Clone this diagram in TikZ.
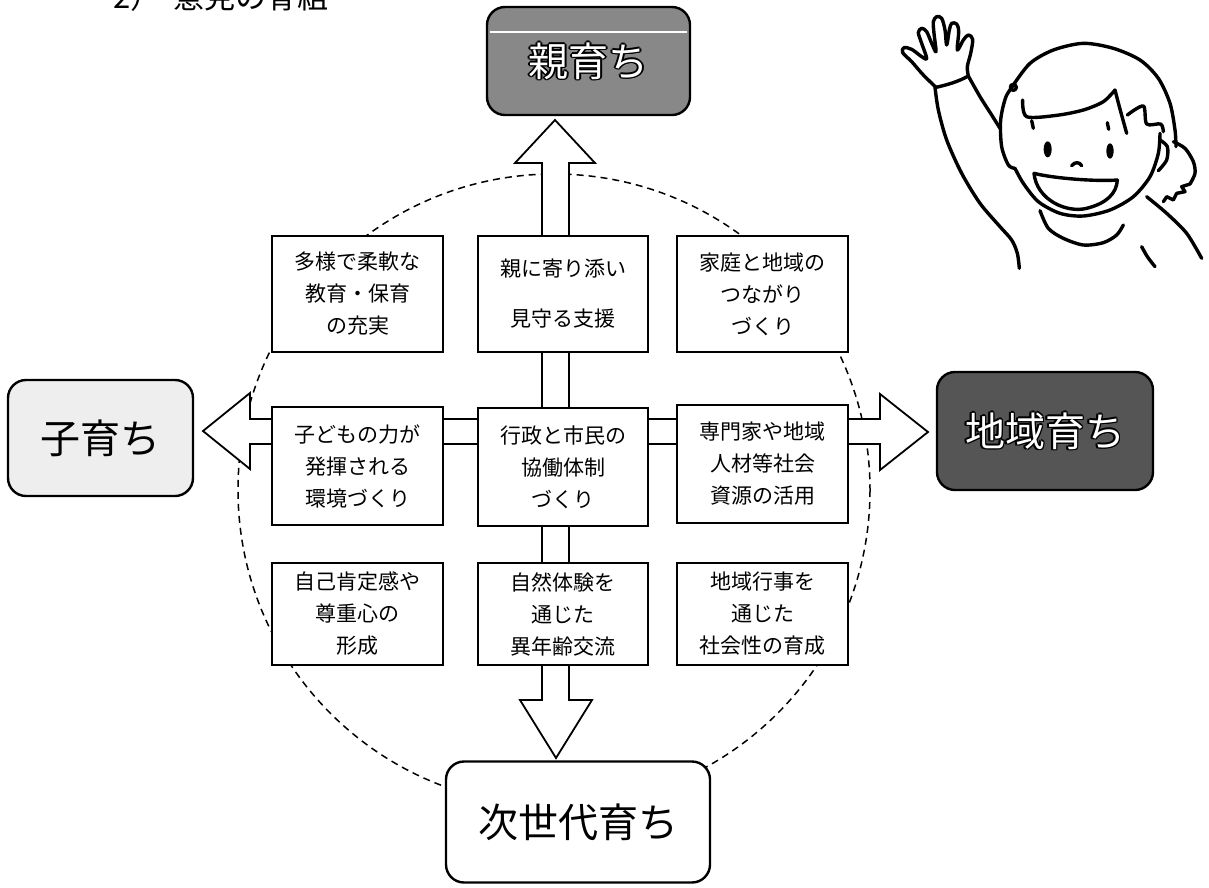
\documentclass[tikz,border=0pt]{standalone}
\usepackage{fontspec}
\setmainfont{Noto Sans CJK JP}
\usetikzlibrary{calc}

% white lettering with a black rim
\newcommand\rimcopy[3]{\rlap{\kern#1\raise#2\hbox{\color{black}#3}}}
\newcommand\rimtext[1]{%
  \rimcopy{1.6pt}{0pt}{#1}\rimcopy{-1.6pt}{0pt}{#1}%
  \rimcopy{0pt}{1.6pt}{#1}\rimcopy{0pt}{-1.6pt}{#1}%
  \rimcopy{1.1pt}{1.1pt}{#1}\rimcopy{-1.1pt}{1.1pt}{#1}%
  \rimcopy{1.1pt}{-1.1pt}{#1}\rimcopy{-1.1pt}{-1.1pt}{#1}%
  {\color{white}#1}}

\definecolor{midgray}{HTML}{888888}
\definecolor{darkgray}{HTML}{555555}
\definecolor{palegray}{HTML}{EEEEEE}

\tikzset{
  cell/.style={draw, line width=1.8pt, fill=white, minimum width=171pt,
    inner sep=0pt, align=center, font=\fontsize{21}{32}\selectfont},
  bigbox/.style={draw, line width=2.4pt, rounded corners=18pt, inner sep=0pt,
    font=\fontsize{40}{44}\selectfont},
  blockarrow/.style={draw, line width=1.8pt, fill=white, line join=miter},
  ring/.style={dashed, line width=1.5pt, dash pattern=on 7pt off 5pt},
  pen/.style={line width=3.4pt, line cap=round, line join=round},
}

\begin{document}
\begin{tikzpicture}[x=1pt, y=-1pt]
\useasboundingbox (0,0) rectangle (1209,887);
\clip (0,0) rectangle (1209,887);

% heading, running off the top edge
\node[anchor=base west, inner sep=0pt, font=\fontsize{31}{34}\selectfont] (head) at (113,8) {2）\hspace{0.4em}意見の骨組};

% dashed ring round the grid
\draw[ring] (554,490) circle[radius=316];

% arrow tips
\coordinate (tipN) at (555,120);
\coordinate (tipS) at (556,758);
\coordinate (tipW) at (203,431);
\coordinate (tipE) at (928,432);

% vertical and horizontal block arrows
\draw[blockarrow] (542,163) -- (515,163) -- (tipN) -- (595,163) -- (569,163)
  -- (569,700) -- (592,700) -- (tipS) -- (520,700) -- (542,700) -- cycle;
\draw[blockarrow] (250,419) -- (250,393) -- (tipW) -- (250,469) -- (250,444)
  -- (880,444) -- (880,470) -- (tipE) -- (880,394) -- (880,419) -- cycle;

% 3 x 3 grid of themes
\node[cell, minimum height=116pt] (c11) at (357.5,294) {多様で柔軟な\\教育・保育\\の充実};
\node[cell, minimum height=116pt, minimum width=170pt] (c12) at (563,294) {親に寄り添い\\[18pt]見守る支援};
\node[cell, minimum height=116pt] (c13) at (762.5,294) {家庭と地域の\\つながり\\づくり};
\node[cell, minimum height=118pt] (c21) at (357.5,466) {子どもの力が\\発揮される\\環境づくり};
\node[cell, minimum height=118pt, minimum width=170pt] (c22) at (563,467) {行政と市民の\\協働体制\\づくり};
\node[cell, minimum height=118pt] (c23) at (762.5,464) {専門家や地域\\人材等社会\\資源の活用};
\node[cell, minimum height=102pt] (c31) at (357.5,614) {自己肯定感や\\尊重心の\\形成};
\node[cell, minimum height=102pt, minimum width=170pt] (c32) at (563,614) {自然体験を\\通じた\\異年齢交流};
\node[cell, minimum height=102pt] (c33) at (762.5,614) {地域行事を\\通じた\\社会性の育成};

% the four outer goals
\node[bigbox, fill=midgray, minimum width=203pt, minimum height=108pt] (oya) at (588.5,61) {\rimtext{親育ち}};
\draw[white, line width=1.5pt] ($(oya.north west)+(4,26)$) -- ($(oya.north east)+(-4,26)$);
\node[bigbox, fill=palegray, minimum width=185pt, minimum height=116pt] (ko) at (100.5,438) {子育ち};
\node[bigbox, fill=darkgray, minimum width=216pt, minimum height=118pt] (chiiki) at (1045,431) {\rimtext{地域育ち}};
\node[bigbox, fill=white, minimum width=264pt, minimum height=121pt] (jisedai) at (578,822) {次世代育ち\hspace{20pt}};

% waving child
\begin{scope}[shift={(880,0)}, scale=1/3]
  % hand and arm
  \draw[pen] plot[smooth, tension=0.55] coordinates {(168,262) (130,225) (95,185) (68,158) (72,143) (95,148) (125,170) (140,175)
    (125,130) (115,98) (125,85) (140,95) (155,130) (168,155)
    (162,100) (160,65) (170,50) (185,55) (195,90) (200,135)
    (208,90) (215,70) (230,72) (236,95) (232,150)
    (250,120) (265,105) (278,118) (272,160) (262,200) (265,228)};
  \draw[pen] (168,262) .. controls (200,255) and (235,245) .. (265,228);
  \draw[pen] plot[smooth] coordinates {(165,262) (175,330) (200,420) (245,520) (300,610) (360,680) (395,720) (412,760) (418,805)};
  \draw[pen] plot[smooth] coordinates {(265,228) (300,290) (335,345) (360,385)};
  % hair
  \draw[pen] plot[smooth] coordinates {(400,255) (450,190) (520,150) (610,130) (700,145) (780,180) (835,235) (870,310) (885,390) (888,440)};
  \draw[pen] plot[smooth] coordinates {(405,250) (378,290) (362,360) (365,440) (385,495) (405,505)};
  \draw[pen] (400,262) circle[radius=9];
  \draw[pen] plot[smooth] coordinates {(428,300) (440,350) (530,346) (610,330) (670,305) (705,270)};
  \draw[pen] plot[smooth] coordinates {(705,270) (718,320) (740,400)};
  \draw[pen] plot[smooth] coordinates {(742,345) (790,318) (800,372) (842,372) (850,395)};
  \draw[pen] (455,362) -- (460,385);
  \draw[pen] (682,368) -- (686,388);
  % ponytail
  \draw[pen] plot[smooth] coordinates {(880,425) (915,445) (940,485) (945,520) (930,552)};
  \draw[pen] plot[sharp plot] coordinates {(930,552) (905,560) (915,575) (890,580) (880,600) (860,590) (850,605)};
  % face
  \draw[pen] plot[smooth] coordinates {(405,505) (430,550) (475,605) (540,640) (610,648) (690,630) (760,590) (810,530) (835,460) (840,400)};
  \draw[pen] plot[smooth] coordinates {(840,420) (862,440) (860,480) (835,512)};
  \fill (503,448) ellipse[x radius=12, y radius=24];
  \fill (690,453) ellipse[x radius=11, y radius=23];
  \draw[pen] (575,497) .. controls (585,485) and (598,485) .. (605,497);
  \draw[pen] (462,520) .. controls (520,535) and (650,545) .. (712,540);
  \draw[pen] (462,520) .. controls (470,600) and (560,640) .. (620,625) .. controls (680,610) and (710,580) .. (712,540);
  % collar and shoulders
  \draw[pen] plot[smooth] coordinates {(480,632) (505,685) (550,715) (610,735) (670,728) (710,705) (730,675)};
  \draw[pen] plot[smooth] coordinates {(800,590) (860,640) (920,700) (965,775)};
  \draw[pen] plot[smooth] coordinates {(785,740) (802,770) (825,800)};
\end{scope}
\end{tikzpicture}
\end{document}
